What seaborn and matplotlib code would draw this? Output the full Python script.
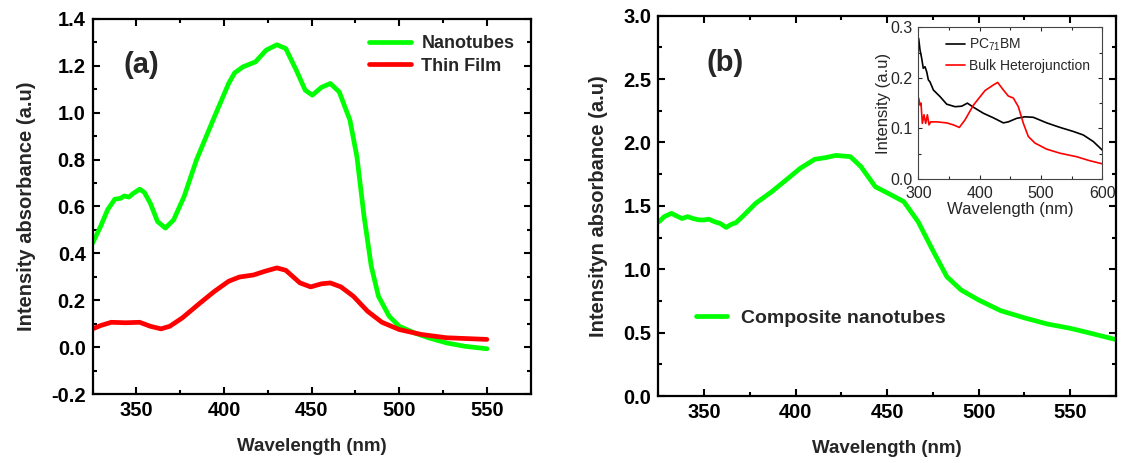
import numpy as np
import pandas as pd
import matplotlib
matplotlib.use("Agg")
import matplotlib.pyplot as plt
import seaborn as sns
from matplotlib.ticker import MultipleLocator, FormatStrFormatter

# ---------------- data ----------------
nano_wl = [325, 329.5, 333.5, 337.6, 341, 343, 345.7, 348, 351.8, 354.5, 357.9, 362, 366.5, 371.2, 377.2,
           384.3, 394.5, 402.6, 406, 410.8, 417.9, 424, 430.1, 435.2, 441.3, 446.3, 450.4, 455.5, 460.6,
           465.7, 471.8, 475.8, 479.9, 484, 488.1, 494.2, 500, 508.5, 516.6, 527, 537, 550]
nano_abs = [0.444, 0.515, 0.586, 0.631, 0.635, 0.645, 0.64, 0.655, 0.674, 0.66, 0.614, 0.536, 0.508, 0.543, 0.643,
            0.80, 0.983, 1.125, 1.17, 1.196, 1.217, 1.267, 1.29, 1.274, 1.18, 1.096, 1.075, 1.108, 1.125,
            1.089, 0.969, 0.813, 0.557, 0.345, 0.217, 0.132, 0.089, 0.061, 0.04, 0.018, 0.004, -0.007]

film_wl = [325, 329.5, 335.6, 343.7, 351.8, 357.9, 364, 369, 376.2, 386.4, 394.5, 402.6, 408.7, 416.9,
           423, 430.1, 435.2, 443.3, 449.4, 455.5, 460.6, 466.7, 473.8, 481.9, 490.1, 500, 512.6, 527, 550]
film_abs = [0.078, 0.092, 0.106, 0.104, 0.106, 0.089, 0.078, 0.089, 0.125, 0.189, 0.238, 0.281, 0.299, 0.308,
            0.323, 0.338, 0.328, 0.274, 0.257, 0.27, 0.274, 0.257, 0.217, 0.153, 0.106, 0.075, 0.054, 0.04, 0.033]

comp_wl = [325.4, 328.3, 332.2, 335, 338, 341, 344, 347, 349.8, 352.5, 355.7, 359, 362, 365, 367.4, 371.3,
           378.2, 387, 394.8, 402.5, 410.4, 416.2, 422, 429.9, 435.7, 443.5, 450.4, 459.1, 466.9,
           474.8, 482.6, 490.4, 500, 512, 525.8, 537.5, 550, 559.2, 575]
comp_abs = [1.375, 1.415, 1.441, 1.42, 1.40, 1.415, 1.40, 1.39, 1.388, 1.395, 1.375, 1.36, 1.33, 1.355, 1.367, 1.42,
            1.52, 1.612, 1.704, 1.796, 1.867, 1.88, 1.898, 1.888, 1.809, 1.651, 1.6, 1.533, 1.375,
            1.152, 0.941, 0.836, 0.757, 0.673, 0.613, 0.568, 0.534, 0.502, 0.445]

pcbm_wl = [300.5, 302.7, 305.4, 308, 310.9, 313.6, 316.3, 319, 324.5, 335.3, 346.2, 359.8, 370.7, 379.9,
           389.7, 406, 422.3, 438.6, 446.7, 460.3, 473.9, 487.5, 509.2, 531, 552.7, 569, 585.3, 600]
pcbm_int = [0.278, 0.255, 0.239, 0.219, 0.222, 0.212, 0.196, 0.192, 0.176, 0.163, 0.148, 0.143, 0.144, 0.15,
            0.142, 0.13, 0.121, 0.111, 0.113, 0.12, 0.123, 0.122, 0.111, 0.102, 0.094, 0.087, 0.074, 0.057]

bhj_wl = [300.5, 302.7, 304.3, 306.5, 309.2, 311.9, 314.7, 317.4, 320.1, 329.9, 346.2, 357.1, 366.8, 376.1,
          389.7, 408.7, 422.3, 429.3, 438.6, 446.7, 454.9, 463, 471.2, 479.3, 490.2, 509.2, 531, 558.2, 579.9, 600]
bhj_int = [0.16, 0.146, 0.15, 0.11, 0.127, 0.11, 0.127, 0.107, 0.113, 0.113, 0.111, 0.107, 0.102, 0.117,
           0.146, 0.175, 0.186, 0.191, 0.176, 0.164, 0.16, 0.143, 0.11, 0.084, 0.071, 0.059, 0.051, 0.044, 0.036, 0.03]

# ---------------- style ----------------
sns.set_style("ticks")
plt.rcParams['font.family'] = ['Liberation Sans', 'DejaVu Sans']
plt.rcParams['mathtext.fontset'] = 'custom'
plt.rcParams['mathtext.rm'] = 'Liberation Sans'

GREEN = '#00FF00'
RED = '#FF0000'

fig = plt.figure(figsize=(11.22, 4.63), dpi=100)
axa = fig.add_axes([0.0826, 0.149, 0.3904, 0.81])
axb = fig.add_axes([0.5867, 0.1447, 0.408, 0.8214])
axi = fig.add_axes([0.8185, 0.6134, 0.164, 0.3276])


def style_main(ax):
    for s in ax.spines.values():
        s.set_linewidth(1.6)
        s.set_color('black')
    ax.tick_params(which='both', direction='in', top=True, right=True, width=1.5, colors='black')
    ax.tick_params(which='major', length=5, labelsize=14.5, pad=5)
    ax.tick_params(which='minor', length=3)
    for lab in ax.get_xticklabels() + ax.get_yticklabels():
        lab.set_fontweight('bold')


# Panel (a)
dfa1 = pd.DataFrame({'wl': nano_wl, 'v': nano_abs})
dfa2 = pd.DataFrame({'wl': film_wl, 'v': film_abs})
sns.lineplot(data=dfa1, x='wl', y='v', ax=axa, color=GREEN, lw=3.4, label='Nanotubes')
sns.lineplot(data=dfa2, x='wl', y='v', ax=axa, color=RED, lw=3.4, label='Thin Film')
axa.set_xlim(325, 575)
axa.set_ylim(-0.2, 1.4)
axa.xaxis.set_major_locator(MultipleLocator(50))
axa.xaxis.set_minor_locator(MultipleLocator(25))
axa.yaxis.set_major_locator(MultipleLocator(0.2))
axa.yaxis.set_minor_locator(MultipleLocator(0.1))
axa.yaxis.set_major_formatter(FormatStrFormatter('%.1f'))
style_main(axa)
axa.set_xlabel('Wavelength (nm)', fontsize=13.5, fontweight='bold', labelpad=13)
axa.set_ylabel('Intensity absorbance (a.u)', fontsize=14.5, fontweight='bold', labelpad=11)
axa.text(0.07, 0.877, '(a)', transform=axa.transAxes, fontsize=21, fontweight='bold', va='center')
axa.legend(loc='upper right', frameon=False, handlelength=2.3, handletextpad=0.6,
           borderaxespad=0.5, labelspacing=0.3, prop={'weight': 'bold', 'size': 13})

# Panel (b)
dfb = pd.DataFrame({'wl': comp_wl, 'v': comp_abs})
sns.lineplot(data=dfb, x='wl', y='v', ax=axb, color=GREEN, lw=3.4, label='Composite nanotubes')
axb.set_xlim(325, 575)
axb.set_ylim(0, 3.0)
axb.xaxis.set_major_locator(MultipleLocator(50))
axb.xaxis.set_minor_locator(MultipleLocator(25))
axb.yaxis.set_major_locator(MultipleLocator(0.5))
axb.yaxis.set_minor_locator(MultipleLocator(0.25))
axb.yaxis.set_major_formatter(FormatStrFormatter('%.1f'))
style_main(axb)
axb.set_xlabel('Wavelength (nm)', fontsize=13.5, fontweight='bold', labelpad=13)
axb.set_ylabel('Intensityn absorbance (a.u)', fontsize=14.5, fontweight='bold', labelpad=11)
axb.text(0.105, 0.876, '(b)', transform=axb.transAxes, fontsize=21, fontweight='bold', va='center')
axb.legend(loc='center left', bbox_to_anchor=(0.045, 0.205), frameon=False, handlelength=1.6,
           handletextpad=0.7, prop={'weight': 'bold', 'size': 14})

# Inset
dfi1 = pd.DataFrame({'wl': pcbm_wl, 'v': pcbm_int})
dfi2 = pd.DataFrame({'wl': bhj_wl, 'v': bhj_int})
sns.lineplot(data=dfi1, x='wl', y='v', ax=axi, color='black', lw=1.2, label=r'PC$_{71}$BM')
sns.lineplot(data=dfi2, x='wl', y='v', ax=axi, color=RED, lw=1.2, label='Bulk Heterojunction')
axi.set_xlim(300, 600)
axi.set_ylim(0, 0.3)
axi.xaxis.set_major_locator(MultipleLocator(100))
axi.xaxis.set_minor_locator(MultipleLocator(50))
axi.yaxis.set_major_locator(MultipleLocator(0.1))
axi.yaxis.set_minor_locator(MultipleLocator(0.05))
axi.yaxis.set_major_formatter(FormatStrFormatter('%.1f'))
for s in axi.spines.values():
    s.set_linewidth(0.8)
    s.set_color('#444444')
axi.tick_params(which='both', direction='in', top=True, right=True, width=0.8, labelsize=11.5)
axi.tick_params(axis='x', which='major', pad=5)
axi.tick_params(axis='y', which='major', pad=4)
axi.tick_params(which='major', length=3)
axi.tick_params(which='minor', length=2)
axi.set_xlabel('Wavelength (nm)', fontsize=12, labelpad=0.5)
axi.set_ylabel('Intensity (a.u)', fontsize=12, labelpad=0)
axi.legend(loc='upper left', bbox_to_anchor=(0.1, 1.0), frameon=False, fontsize=10,
           handlelength=1.3, handletextpad=0.3, labelspacing=0.4, borderaxespad=0.3)

fig.savefig('out.png', dpi=100)
